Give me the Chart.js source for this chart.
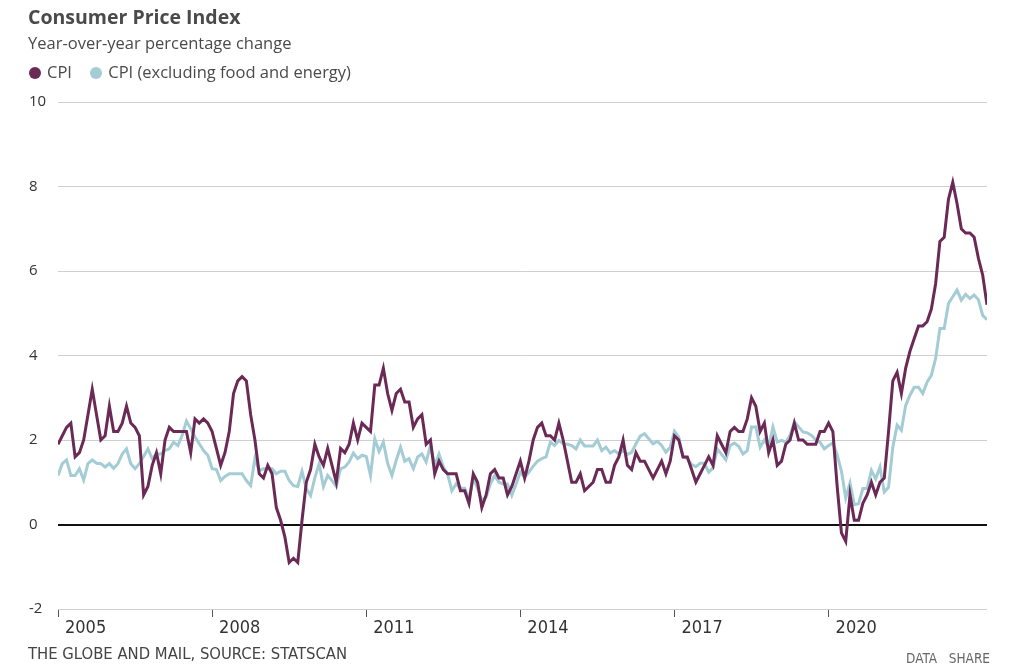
<!DOCTYPE html>
<html>
<head>
<meta charset="utf-8">
<script src="https://cdn.jsdelivr.net/npm/chart.js@4.4.0/dist/chart.umd.min.js"></script>
<style>
  body { margin: 0; background: #fff; font-family: "Open Sans", "Noto Sans", sans-serif; }
  #wrap { position: relative; width: 1023px; height: 667px; overflow: hidden; }
  #chart { position: absolute; left: 0; top: 0; }
  .title { position: absolute; left: 28px; top: 3px; font-size: 19.5px; font-weight: bold; color: #4a4a4a; }
  .sub { position: absolute; left: 28px; top: 31px; font-size: 16.5px; color: #4a4a4a; }
  .legend { position: absolute; left: 29px; top: 60px; font-size: 16.5px; color: #4a4a4a; white-space: nowrap; }
  .legend span.dot { display: inline-block; width: 12px; height: 12px; border-radius: 50%; margin-right: 6px; vertical-align: -1px; }
  .legend span.item { margin-right: 14px; }
  .foot { position: absolute; left: 28px; top: 644px; font-size: 16.5px; color: #444;
          font-family: "Liberation Sans Narrow", "DejaVu Sans Condensed", sans-serif; font-stretch: condensed; }
  .links { position: absolute; right: 33px; top: 650px; font-size: 13.5px; color: #666;
           font-family: "Liberation Sans Narrow", "DejaVu Sans Condensed", sans-serif; font-stretch: condensed; }
</style>
</head>
<body>
<div id="wrap">
  <canvas id="chart" width="1023" height="667"></canvas>
  <div class="title">Consumer Price Index</div>
  <div class="sub">Year-over-year percentage change</div>
  <div class="legend">
    <span class="item"><span class="dot" style="background:#6b2956"></span>CPI</span>
    <span class="item"><span class="dot" style="background:#a3ccd5"></span>CPI (excluding food and energy)</span>
  </div>
  <div class="foot">THE GLOBE AND MAIL, SOURCE: STATSCAN</div>
  <div class="links">DATA&nbsp;&nbsp;&nbsp;SHARE</div>
</div>
<script>
// monthly, Jan 2005 - Feb 2023
const startYear = 2005;
const cpi = [
  1.9, 2.1, 2.3, 2.4, 1.6, 1.7, 2.0, 2.6, 3.2, 2.6, 2.0, 2.1,
  2.8, 2.2, 2.2, 2.4, 2.8, 2.4, 2.3, 2.1, 0.7, 0.9, 1.4, 1.7,
  1.2, 2.0, 2.3, 2.2, 2.2, 2.2, 2.2, 1.7, 2.5, 2.4, 2.5, 2.4,
  2.2, 1.8, 1.4, 1.7, 2.2, 3.1, 3.4, 3.5, 3.4, 2.6, 2.0, 1.2,
  1.1, 1.4, 1.2, 0.4, 0.1, -0.3, -0.9, -0.8, -0.9, 0.1, 1.0, 1.3,
  1.9, 1.6, 1.4, 1.8, 1.4, 1.0, 1.8, 1.7, 1.9, 2.4, 2.0, 2.4,
  2.3, 2.2, 3.3, 3.3, 3.7, 3.1, 2.7, 3.1, 3.2, 2.9, 2.9, 2.3,
  2.5, 2.6, 1.9, 2.0, 1.2, 1.5, 1.3, 1.2, 1.2, 1.2, 0.8, 0.8,
  0.5, 1.2, 1.0, 0.4, 0.7, 1.2, 1.3, 1.1, 1.1, 0.7, 0.9, 1.2,
  1.5, 1.1, 1.5, 2.0, 2.3, 2.4, 2.1, 2.1, 2.0, 2.4, 2.0, 1.5,
  1.0, 1.0, 1.2, 0.8, 0.9, 1.0, 1.3, 1.3, 1.0, 1.0, 1.4, 1.6,
  2.0, 1.4, 1.3, 1.7, 1.5, 1.5, 1.3, 1.1, 1.3, 1.5, 1.2, 1.5,
  2.1, 2.0, 1.6, 1.6, 1.3, 1.0, 1.2, 1.4, 1.6, 1.4, 2.1, 1.9,
  1.7, 2.2, 2.3, 2.2, 2.2, 2.5, 3.0, 2.8, 2.2, 2.4, 1.7, 2.0,
  1.4, 1.5, 1.9, 2.0, 2.4, 2.0, 2.0, 1.9, 1.9, 1.9, 2.2, 2.2,
  2.4, 2.2, 0.9, -0.2, -0.4, 0.7, 0.1, 0.1, 0.5, 0.7, 1.0, 0.7,
  1.0, 1.1, 2.2, 3.4, 3.6, 3.1, 3.7, 4.1, 4.4, 4.7, 4.7, 4.8,
  5.1, 5.7, 6.7, 6.8, 7.7, 8.1, 7.6, 7.0, 6.9, 6.9, 6.8, 6.3,
  5.9, 5.2
];
const core = [
  1.16, 1.44, 1.53, 1.16, 1.16, 1.32, 1.05, 1.44, 1.53, 1.45, 1.44, 1.36,
  1.44, 1.33, 1.44, 1.67, 1.79, 1.44, 1.32, 1.44, 1.61, 1.79, 1.56, 1.67,
  1.67, 1.75, 1.79, 1.95, 1.87, 2.11, 2.45, 2.27, 2.07, 1.91, 1.75, 1.64,
  1.32, 1.30, 1.04, 1.14, 1.2, 1.2, 1.2, 1.2, 1.04, 0.92, 1.56, 1.28,
  1.32, 1.32, 1.32, 1.2, 1.26, 1.26, 1.04, 0.92, 0.9, 1.26, 0.85, 0.69,
  1.11, 1.44, 0.9, 1.16, 1.04, 0.9, 1.32, 1.36, 1.48, 1.69, 1.56, 1.64,
  1.61, 1.16, 2.03, 1.73, 1.95, 1.45, 1.16, 1.52, 1.83, 1.5, 1.56, 1.32,
  1.6, 1.67, 1.48, 1.87, 1.4, 1.67, 1.36, 1.2, 0.8, 0.96, 0.86, 0.86,
  0.6, 1.1, 0.85, 0.57, 0.65, 0.96, 1.16, 1.0, 0.96, 0.96, 0.69, 0.96,
  1.24, 1.12, 1.24, 1.38, 1.5, 1.56, 1.6, 1.95, 1.87, 1.99, 1.91, 1.9,
  1.87, 1.79, 2.0, 1.86, 1.86, 1.86, 2.0, 1.75, 1.83, 1.69, 1.75, 1.67,
  1.75, 1.66, 1.71, 1.91, 2.09, 2.15, 2.03, 1.91, 1.97, 1.87, 1.71, 1.83,
  2.21, 2.07, 1.6, 1.56, 1.42, 1.37, 1.45, 1.45, 1.24, 1.34, 1.79, 1.66,
  1.53, 1.87, 1.93, 1.85, 1.67, 1.75, 2.31, 2.31, 1.83, 2.0, 1.83, 2.31,
  1.95, 1.99, 1.95, 2.11, 2.43, 2.31, 2.19, 2.17, 2.11, 2.0, 1.95, 1.79,
  1.87, 1.93, 1.65, 1.26, 0.63, 0.98, 0.47, 0.49, 0.85, 0.85, 1.28, 1.08,
  1.36, 0.77, 0.88, 1.83, 2.35, 2.23, 2.82, 3.06, 3.25, 3.25, 3.1, 3.37,
  3.53, 3.93, 4.64, 4.64, 5.23, 5.39, 5.55, 5.31, 5.45, 5.35, 5.43, 5.32,
  4.95, 4.85
];
const xTickYears = [2005, 2008, 2011, 2014, 2017, 2020];
const yTicks = [-2, 0, 2, 4, 6, 8, 10];

const toPoints = arr => arr.map((v, i) => ({ x: startYear + i / 12, y: v }));

const narrow = '"Liberation Sans Narrow", "DejaVu Sans Condensed", sans-serif';

new Chart(document.getElementById('chart'), {
  type: 'line',
  data: {
    datasets: [{
      label: 'CPI',
      data: toPoints(cpi),
      borderColor: '#6b2956',
      borderWidth: 3,
      pointRadius: 0,
      tension: 0
    }, {
      label: 'CPI (excluding food and energy)',
      data: toPoints(core),
      borderColor: '#a3ccd5',
      borderWidth: 3,
      pointRadius: 0,
      tension: 0
    }]
  },
  options: {
    responsive: false,
    animation: false,
    layout: { padding: { left: 29, right: 36, top: 102, bottom: 18 } },
    plugins: { legend: { display: false }, tooltip: { enabled: false } },
    scales: {
      x: {
        type: 'linear',
        min: startYear,
        max: startYear + (cpi.length - 1) / 12,
        afterBuildTicks: s => { s.ticks = xTickYears.map(v => ({ value: v })); },
        afterFit: s => { s.height = 40; },
        grid: { drawOnChartArea: false, drawTicks: true, tickLength: 8, color: '#555' },
        border: { display: false },
        ticks: {
          align: 'start', labelOffset: 7, padding: 1, maxRotation: 0,
          color: '#333', font: { family: narrow, size: 18 },
          callback: v => String(v)
        }
      },
      y: {
        min: -2,
        max: 10,
        afterBuildTicks: s => { s.ticks = yTicks.map(v => ({ value: v })); },
        afterFit: s => { s.width = 29; },
        border: { display: false },
        grid: {
          drawTicks: false,
          color: c => c.tick.value === 0 ? '#111' : '#cfcfcf',
          lineWidth: c => c.tick.value === 0 ? 2 : 1
        },
        ticks: {
          crossAlign: 'far', padding: 0,
          color: '#333', font: { family: '"Open Sans", "Noto Sans", sans-serif', size: 15 }
        }
      }
    }
  }
});
</script>
</body>
</html>
